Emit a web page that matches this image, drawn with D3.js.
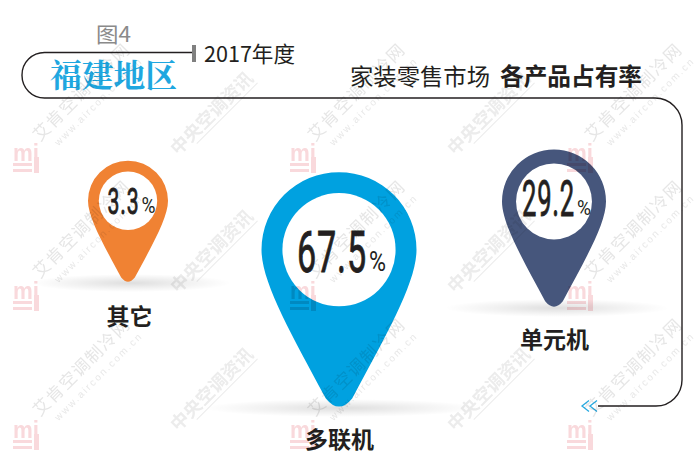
<!DOCTYPE html>
<html><head><meta charset="utf-8">
<script src="https://cdn.jsdelivr.net/npm/d3@7"></script>
<style>html,body{margin:0;padding:0;background:#fff}svg{display:block}</style></head>
<body><svg id="c" width="700" height="476"></svg>
<script>
const categories = ["其它", "多联机", "单元机"];
const shares = [3.3, 67.5, 29.2];
const colors = ["#f08233", "#00a1e0", "#46567c"];
const titleYear = "2017年度";
const titleRegion = "福建地区";
const titleMarket = "家装零售市场";
const titleProduct = "各产品占有率";
const figureLabel = "图4";

const W = 700, H = 476, CJK = '"Noto Sans CJK SC","Noto Sans",sans-serif';
const NUM = '"Roboto","Liberation Sans",sans-serif';
const svg = d3.select("#c");
const defs = svg.append("defs");

// scales
const xPin = d3.scaleOrdinal().domain(categories).range([128, 339, 554]);
const yTip = d3.scaleOrdinal().domain(categories).range([282, 407, 307]);
const rPin = d3.scaleLinear().domain([3.3, 29.2, 67.5]).range([40, 52, 77.5]);
const fill = d3.scaleOrdinal().domain(categories).range(colors);
const numW = d3.scaleOrdinal().domain(categories).range([32, 70, 53]);
const numH = d3.scaleOrdinal().domain(categories).range([26, 41, 35]);
const pctW = d3.scaleOrdinal().domain(categories).range([14, 17, 14]);
const pctH = d3.scaleOrdinal().domain(categories).range([16, 20, 15]);
const numBase = d3.scaleOrdinal().domain(categories).range([214, 272, 216]);
const labelY = d3.scaleOrdinal().domain(categories).range([325, 448, 348]);
const labelX = d3.scaleOrdinal().domain(categories).range([129.5, 339.5, 554.5]);

const blur = defs.append("radialGradient").attr("id", "sh");
blur.append("stop").attr("offset", "0").attr("stop-color", "#000").attr("stop-opacity", .13);
blur.append("stop").attr("offset", ".55").attr("stop-color", "#000").attr("stop-opacity", .055);
blur.append("stop").attr("offset", "1").attr("stop-color", "#000").attr("stop-opacity", 0);

const rows = categories.map((c, i) => ({c, v: shares[i], x: xPin(c), tip: yTip(c), r: rPin(shares[i])}));

// frame
const fp = d3.path();
fp.moveTo(193, 52.5); fp.lineTo(45, 52.5);
fp.arcTo(22, 52.5, 22, 75, 22.5); fp.arcTo(22, 98, 45, 98, 22.5);
fp.lineTo(655, 98); fp.arcTo(682, 98, 682, 125, 27);
fp.lineTo(682, 380); fp.arcTo(682, 406, 656, 406, 26);
fp.lineTo(598, 406);
svg.append("path").attr("d", fp).attr("fill", "none").attr("stroke", "#231f20").attr("stroke-width", 1.4);
svg.append("rect").attr("x", 192).attr("y", 45).attr("width", 4).attr("height", 17).attr("fill", "#808080");
[590, 582].forEach(x => {
  svg.append("path").attr("d", `M${x + 7} 400.5L${x} 406L${x + 7} 411.5`).attr("fill", "none").attr("stroke", "#27aae1").attr("stroke-width", 1.3);
});

const txt = (t, x, y, size, o = {}) => svg.append("text").text(t).attr("x", x).attr("y", y)
  .attr("font-family", o.family || CJK).attr("font-size", size).attr("font-weight", o.weight || 400)
  .attr("fill", o.fill || "#231f20").attr("text-anchor", o.anchor || "start")
  .attr("textLength", o.len || null).attr("lengthAdjust", o.len ? "spacingAndGlyphs" : null);

txt(figureLabel, 96, 42, 21, {fill: "#8a8a8a", weight: 400, len: 35});
txt(titleYear, 204, 62, 22, {len: 91});
txt(titleRegion, 50, 87, 32, {fill: "#1fa7e0", weight: 700, len: 127, family: '"Noto Serif CJK SC","Noto Sans CJK SC",serif'});
txt(titleMarket, 350, 85, 23, {len: 140});
txt(titleProduct, 500, 85, 23.5, {weight: 700, len: 142});

// pins
function pinPath(k) {
  const p = d3.path();
  p.moveTo(-k, 0);
  p.arc(0, 0, k, Math.PI, 0);
  p.bezierCurveTo(k, .42 * k, .62 * k, 1.08 * k, .17 * k, 1.92 * k);
  p.quadraticCurveTo(0, 2.13 * k, -.17 * k, 1.92 * k);
  p.bezierCurveTo(-.62 * k, 1.08 * k, -k, .42 * k, -k, 0);
  p.closePath();
  return p.toString();
}
const tipRatio = 2.03;
const g = svg.selectAll("g.pin").data(rows).join("g").attr("class", "pin");
g.append("ellipse").attr("cx", d => d.x + 3).attr("cy", d => d.tip + 1).attr("rx", d => 60 + d.r).attr("ry", 9).attr("fill", "url(#sh)");
g.append("path").attr("d", d => pinPath(d.r)).attr("transform", d => `translate(${d.x},${d.tip - d.r * tipRatio})`).attr("fill", d => fill(d.c));
g.append("circle").attr("cx", d => d.x).attr("cy", d => d.tip - d.r * tipRatio).attr("r", d => d.r * .73).attr("fill", "#fff");

// values: condensed digits, narrowed by a measured horizontal scale
const numLeft = d => labelX(d.c) + 2 - (numW(d.c) + 2 + pctW(d.c)) / 2;
function squeeze(sel, left, base, width) {
  sel.attr("transform", function (d) {
    const s = width(d) / this.getComputedTextLength();
    return `translate(${left(d)},${base(d)}) scale(${s},1)`;
  });
}
g.append("text")
  .attr("font-family", NUM).attr("font-weight", 400).attr("font-size", d => numH(d.c) / .711)
  .attr("fill", "#231f20").attr("stroke", "#231f20").attr("stroke-width", .9).attr("letter-spacing", 1.5)
  .text(d => d.v.toFixed(1))
  .call(squeeze, numLeft, d => numBase(d.c), d => numW(d.c));
g.append("text")
  .attr("font-family", NUM).attr("font-size", d => pctH(d.c) / .711)
  .attr("fill", "#231f20").text("%")
  .call(squeeze, d => numLeft(d) + numW(d.c) + 2, d => numBase(d.c) - 1, d => pctW(d.c));

// category labels
g.append("text").attr("x", d => labelX(d.c)).attr("y", d => labelY(d.c)).attr("text-anchor", "middle")
  .attr("font-family", CJK).attr("font-weight", 700).attr("font-size", 23).attr("fill", "#231f20").text(d => d.c);

// watermarks
const wmA = "艾肯空调制冷网", wmB = "www.aircon.com.cn", wmC = "中央空调资讯", wmL = "mi";
const wm = svg.append("g").attr("pointer-events", "none").style("mix-blend-mode", "multiply");
const aPos = [[40,142],[315,142],[592,142],[40,279],[315,279],[592,279],[40,417],[315,417],[592,417]];
const cPos = [[178,156],[455,156],[178,294],[455,294],[178,432],[455,432]];
const lPos = [[13,147],[290,147],[567,147],[13,285],[290,285],[567,285],[13,424],[290,424],[567,424]];
aPos.forEach(([x, y]) => {
  const t = wm.append("g").attr("transform", `translate(${x},${y}) rotate(-45)`);
  t.append("text").text(wmA).attr("font-family", CJK).attr("font-size", 17).attr("fill", "#e6e6e6").attr("textLength", 128);
  t.append("text").text(wmB).attr("x", 10).attr("y", 16).attr("font-family", '"Liberation Sans",sans-serif').attr("font-size", 10).attr("fill", "#e8e8e8").attr("textLength", 118);
});
cPos.forEach(([x, y]) => {
  const t = wm.append("g").attr("transform", `translate(${x},${y}) rotate(-45)`);
  t.append("text").text(wmC).attr("font-family", CJK).attr("font-size", 18).attr("font-weight", 700).attr("fill", "#ececec").attr("textLength", 108);
  t.append("rect").attr("x", 22).attr("y", 4).attr("width", 86).attr("height", 1).attr("fill", "#ececec");
});
lPos.forEach(([x, y]) => {
  const t = wm.append("g").attr("transform", `translate(${x},${y})`).attr("fill", "#f9d9dc");
  t.append("text").text(wmL).attr("y", 14).attr("font-family", '"Liberation Sans",sans-serif').attr("font-size", 24).attr("font-weight", 700)
    .attr("textLength", 26).attr("lengthAdjust", "spacingAndGlyphs");
  t.append("rect").attr("y", 16).attr("width", 19).attr("height", 3);
  t.append("rect").attr("y", 22).attr("width", 19).attr("height", 3);
  t.append("rect").attr("x", 21).attr("y", 10).attr("width", 5).attr("height", 16);
});
</script></body></html>
